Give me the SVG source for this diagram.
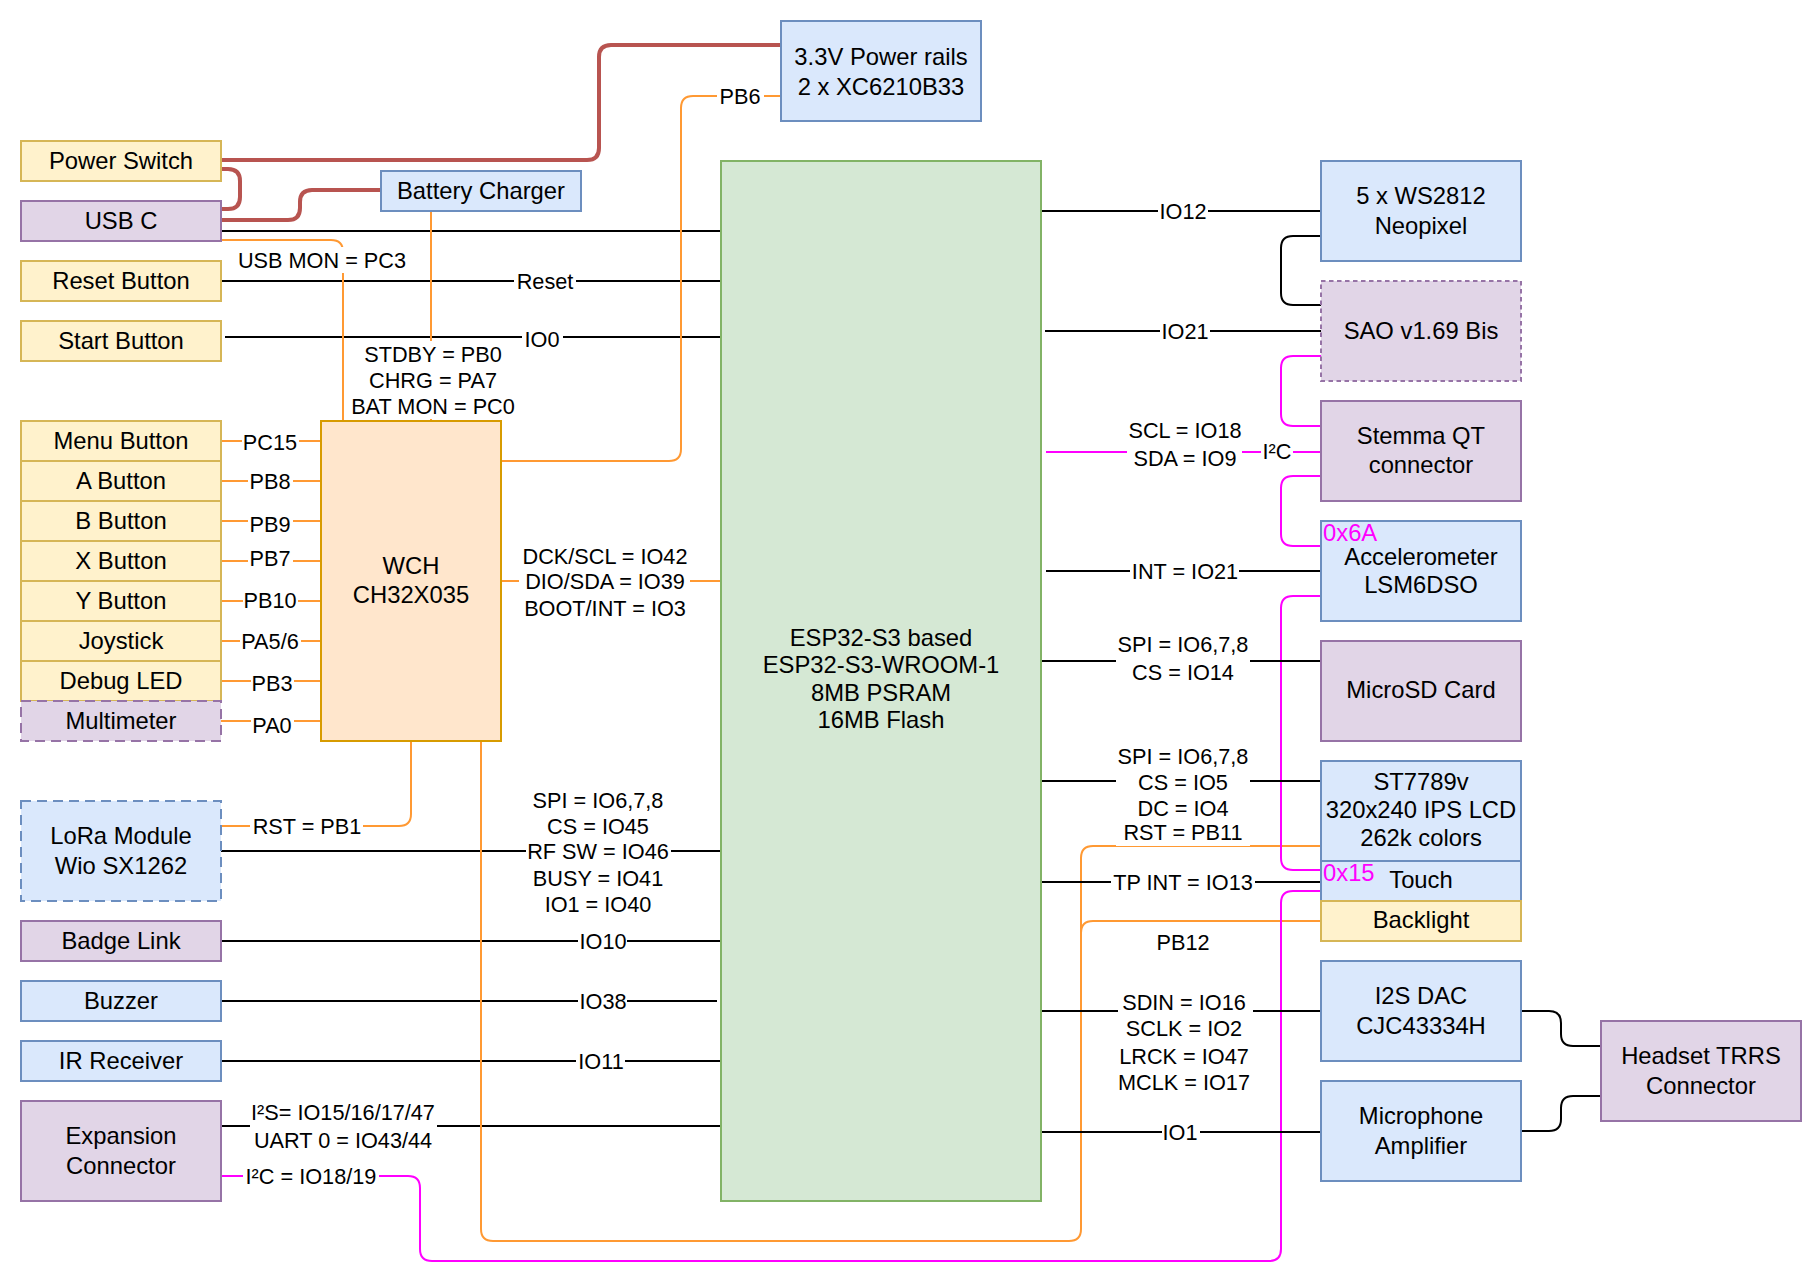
<svg xmlns="http://www.w3.org/2000/svg" width="1820" height="1280" viewBox="0 0 1820 1280">
<style>
text{font-family:"Liberation Sans",Arial,sans-serif;dominant-baseline:central;text-anchor:middle;fill:#000}
.n{font-size:23.8px}
.l{font-size:21.7px}
.m{fill:#FF00FF;text-anchor:start}
rect{stroke-width:2}
.y{fill:#fff2cc;stroke:#d6b656}
.p{fill:#e1d5e7;stroke:#9673a6}
.b{fill:#dae8fc;stroke:#6c8ebf}
.g{fill:#d5e8d4;stroke:#82b366}
.o{fill:#ffe6cc;stroke:#d79b00}
.dl{stroke-dasharray:10 6}
.ds{stroke-dasharray:4.5 3.5}
.bg{fill:#fff;stroke:none}
path,line{fill:none;stroke-width:2}
.k{stroke:#000}
.r{stroke:#b85450;stroke-width:4}
.or{stroke:#FF9933}
.mg{stroke:#FF00FF}
</style>
<g id="connectors">
<path class="r" d="M221,160 H587 Q599,160 599,148 V57 Q599,45 611,45 H781"/>
<path class="r" d="M221,169 H228 Q240,169 240,181 V197 Q240,209 228,209 H221"/>
<path class="r" d="M221,220 H288 Q300,220 300,208 V202 Q300,190 312,190 H381"/>
<path class="k" d="M221,231 H721"/>
<path class="k" d="M221,281 H721"/>
<path class="k" d="M225,337 H721"/>
<path class="k" d="M221,851 H721"/>
<path class="k" d="M221,941 H724"/>
<path class="k" d="M221,1001 H717"/>
<path class="k" d="M221,1061 H721"/>
<path class="k" d="M221,1126 H721"/>
<path class="or" d="M221,240 H331 Q343,240 343,252 V421"/>
<path class="or" d="M431,211 V421"/>
<path class="or" d="M501,461 H669 Q681,461 681,449 V108 Q681,96 693,96 H781"/>
<path class="or" d="M221,441 H321"/>
<path class="or" d="M221,481 H321"/>
<path class="or" d="M221,521 H321"/>
<path class="or" d="M221,561 H321"/>
<path class="or" d="M221,601 H321"/>
<path class="or" d="M221,641 H321"/>
<path class="or" d="M221,681 H321"/>
<path class="or" d="M221,721 H324"/>
<path class="or" d="M501,581 H721"/>
<path class="or" d="M411,741 V814 Q411,826 399,826 H221"/>
<path class="or" d="M481,741 V1229 Q481,1241 493,1241 H1069 Q1081,1241 1081,1229 V858 Q1081,846 1093,846 H1321"/>
<path class="or" d="M1081,933 Q1081,921 1093,921 H1321"/>
<path class="mg" d="M221,1176 H408 Q420,1176 420,1188 V1249 Q420,1261 432,1261 H1269 Q1281,1261 1281,1249 V903 Q1281,891 1293,891 H1321"/>
<path class="mg" d="M1321,596 H1293 Q1281,596 1281,608 V858 Q1281,870 1293,870 H1321"/>
<path class="mg" d="M1321,356 H1293 Q1281,356 1281,368 V414 Q1281,426 1293,426 H1321"/>
<path class="mg" d="M1321,476 H1293 Q1281,476 1281,488 V534 Q1281,546 1293,546 H1321"/>
<path class="mg" d="M1046,452 H1321"/>
<path class="k" d="M1041,211 H1321"/>
<path class="k" d="M1321,236 H1293 Q1281,236 1281,248 V293 Q1281,305 1293,305 H1321"/>
<path class="k" d="M1045,331 H1321"/>
<path class="k" d="M1046,571 H1321"/>
<path class="k" d="M1041,661 H1321"/>
<path class="k" d="M1041,781 H1321"/>
<path class="k" d="M1041,882 H1321"/>
<path class="k" d="M1041,1011 H1321"/>
<path class="k" d="M1041,1132 H1321"/>
<path class="k" d="M1521,1011 H1549 Q1561,1011 1561,1023 V1034 Q1561,1046 1573,1046 H1601"/>
<path class="k" d="M1521,1131 H1549 Q1561,1131 1561,1119 V1108 Q1561,1096 1573,1096 H1601"/>
<rect class="bg" x="236" y="247" width="173" height="26"/>
<rect class="bg" x="349" y="341" width="168" height="78"/>
<rect class="bg" x="514" y="268" width="62" height="26"/>
<rect class="bg" x="522" y="326" width="41" height="26"/>
<rect class="bg" x="717" y="83" width="47" height="26"/>
<rect class="bg" x="242" y="429" width="57" height="26"/>
<rect class="bg" x="248" y="468" width="45" height="26"/>
<rect class="bg" x="248" y="511" width="45" height="26"/>
<rect class="bg" x="248" y="545" width="45" height="26"/>
<rect class="bg" x="243" y="587" width="55" height="26"/>
<rect class="bg" x="240" y="628" width="61" height="26"/>
<rect class="bg" x="251" y="670" width="43" height="26"/>
<rect class="bg" x="251" y="712" width="43" height="26"/>
<rect class="bg" x="519" y="542" width="171" height="79"/>
<rect class="bg" x="250" y="813" width="113" height="26"/>
<rect class="bg" x="526" y="787" width="145" height="130"/>
<rect class="bg" x="578" y="928" width="49" height="26"/>
<rect class="bg" x="578" y="988" width="49" height="26"/>
<rect class="bg" x="576" y="1048" width="49" height="26"/>
<rect class="bg" x="250" y="1099" width="187" height="54"/>
<rect class="bg" x="243" y="1163" width="136" height="26"/>
<rect class="bg" x="1158" y="198" width="50" height="26"/>
<rect class="bg" x="1160" y="318" width="50" height="26"/>
<rect class="bg" x="1127" y="417" width="115" height="54"/>
<rect class="bg" x="1261" y="438" width="32" height="26"/>
<rect class="bg" x="1130" y="558" width="109" height="26"/>
<rect class="bg" x="1116" y="631" width="134" height="54"/>
<rect class="bg" x="1116" y="743" width="134" height="103"/>
<rect class="bg" x="1111" y="869" width="144" height="26"/>
<rect class="bg" x="1118" y="989" width="135" height="106"/>
<rect class="bg" x="1162" y="1119" width="38" height="26"/>
<g class="l">
<text x="322" y="260">USB MON = PC3</text>
<text x="433" y="354">STDBY = PB0</text>
<text x="433" y="380">CHRG = PA7</text>
<text x="433" y="406">BAT MON = PC0</text>
<text x="545" y="281">Reset</text>
<text x="542" y="339">IO0</text>
<text x="740" y="96">PB6</text>
<text x="270" y="442">PC15</text>
<text x="270" y="481">PB8</text>
<text x="270" y="524">PB9</text>
<text x="270" y="558">PB7</text>
<text x="270" y="600">PB10</text>
<text x="270" y="641">PA5/6</text>
<text x="272" y="683">PB3</text>
<text x="272" y="725">PA0</text>
<text x="605" y="556">DCK/SCL = IO42</text>
<text x="605" y="581">DIO/SDA = IO39</text>
<text x="605" y="608">BOOT/INT = IO3</text>
<text x="307" y="826">RST = PB1</text>
<text x="598" y="800">SPI = IO6,7,8</text>
<text x="598" y="826">CS = IO45</text>
<text x="598" y="851">RF SW = IO46</text>
<text x="598" y="878">BUSY = IO41</text>
<text x="598" y="904">IO1 = IO40</text>
<text x="603" y="941">IO10</text>
<text x="603" y="1001">IO38</text>
<text x="601" y="1061">IO11</text>
<text x="343" y="1112">I²S= IO15/16/17/47</text>
<text x="343" y="1140">UART 0 = IO43/44</text>
<text x="311" y="1176">I²C = IO18/19</text>
<text x="1183" y="211">IO12</text>
<text x="1185" y="331">IO21</text>
<text x="1185" y="430">SCL = IO18</text>
<text x="1185" y="458">SDA = IO9</text>
<text x="1277" y="451">I²C</text>
<text x="1185" y="571">INT = IO21</text>
<text x="1183" y="644">SPI = IO6,7,8</text>
<text x="1183" y="672">CS = IO14</text>
<text x="1183" y="756">SPI = IO6,7,8</text>
<text x="1183" y="782">CS = IO5</text>
<text x="1183" y="808">DC = IO4</text>
<text x="1183" y="832">RST = PB11</text>
<text x="1183" y="882">TP INT = IO13</text>
<text x="1183" y="942">PB12</text>
<text x="1184" y="1002">SDIN = IO16</text>
<text x="1184" y="1028">SCLK = IO2</text>
<text x="1184" y="1056">LRCK = IO47</text>
<text x="1184" y="1082">MCLK = IO17</text>
<text x="1180" y="1132">IO1</text>
</g>
</g>
<g id="power-rails"><rect class="b" x="781" y="21" width="200" height="100"/><text class="n" x="881" y="56">3.3V Power rails</text><text class="n" x="881" y="86">2 x XC6210B33</text></g>
<g id="power-switch"><rect class="y" x="21" y="141" width="200" height="40"/><text class="n" x="121" y="160">Power Switch</text></g>
<g id="usb-c"><rect class="p" x="21" y="201" width="200" height="40"/><text class="n" x="121" y="220">USB C</text></g>
<g id="battery-charger"><rect class="b" x="381" y="171" width="200" height="40"/><text class="n" x="481" y="190">Battery Charger</text></g>
<g id="reset-button"><rect class="y" x="21" y="261" width="200" height="40"/><text class="n" x="121" y="280">Reset Button</text></g>
<g id="start-button"><rect class="y" x="21" y="321" width="200" height="40"/><text class="n" x="121" y="340">Start Button</text></g>
<g id="menu-button"><rect class="y" x="21" y="421" width="200" height="40"/><text class="n" x="121" y="440">Menu Button</text></g>
<g id="a-button"><rect class="y" x="21" y="461" width="200" height="40"/><text class="n" x="121" y="480">A Button</text></g>
<g id="b-button"><rect class="y" x="21" y="501" width="200" height="40"/><text class="n" x="121" y="520">B Button</text></g>
<g id="x-button"><rect class="y" x="21" y="541" width="200" height="40"/><text class="n" x="121" y="560">X Button</text></g>
<g id="y-button"><rect class="y" x="21" y="581" width="200" height="40"/><text class="n" x="121" y="600">Y Button</text></g>
<g id="joystick"><rect class="y" x="21" y="621" width="200" height="40"/><text class="n" x="121" y="640">Joystick</text></g>
<g id="debug-led"><rect class="y" x="21" y="661" width="200" height="40"/><text class="n" x="121" y="680">Debug LED</text></g>
<g id="multimeter"><rect class="p dl" x="21" y="701" width="200" height="40"/><text class="n" x="121" y="720">Multimeter</text></g>
<g id="wch"><rect class="o" x="321" y="421" width="180" height="320"/><text class="n" x="411" y="565">WCH</text><text class="n" x="411" y="594">CH32X035</text></g>
<g id="lora"><rect class="b dl" x="21" y="801" width="200" height="100"/><text class="n" x="121" y="835">LoRa Module</text><text class="n" x="121" y="865">Wio SX1262</text></g>
<g id="badge-link"><rect class="p" x="21" y="921" width="200" height="40"/><text class="n" x="121" y="940">Badge Link</text></g>
<g id="buzzer"><rect class="b" x="21" y="981" width="200" height="40"/><text class="n" x="121" y="1000">Buzzer</text></g>
<g id="ir-receiver"><rect class="b" x="21" y="1041" width="200" height="40"/><text class="n" x="121" y="1060">IR Receiver</text></g>
<g id="expansion"><rect class="p" x="21" y="1101" width="200" height="100"/><text class="n" x="121" y="1135">Expansion</text><text class="n" x="121" y="1165">Connector</text></g>
<g id="esp32"><rect class="g" x="721" y="161" width="320" height="1040"/><text class="n" x="881" y="637">ESP32-S3 based</text><text class="n" x="881" y="664">ESP32-S3-WROOM-1</text><text class="n" x="881" y="692">8MB PSRAM</text><text class="n" x="881" y="719">16MB Flash</text></g>
<g id="neopixel"><rect class="b" x="1321" y="161" width="200" height="100"/><text class="n" x="1421" y="195">5 x WS2812</text><text class="n" x="1421" y="225">Neopixel</text></g>
<g id="sao"><rect class="p ds" x="1321" y="281" width="200" height="100"/><text class="n" x="1421" y="330">SAO v1.69 Bis</text></g>
<g id="stemma"><rect class="p" x="1321" y="401" width="200" height="100"/><text class="n" x="1421" y="435">Stemma QT</text><text class="n" x="1421" y="464">connector</text></g>
<g id="accelerometer"><rect class="b" x="1321" y="521" width="200" height="100"/><text class="n m" x="1323" y="532">0x6A</text><text class="n" x="1421" y="556">Accelerometer</text><text class="n" x="1421" y="584">LSM6DSO</text></g>
<g id="microsd"><rect class="p" x="1321" y="641" width="200" height="100"/><text class="n" x="1421" y="689">MicroSD Card</text></g>
<g id="lcd"><rect class="b" x="1321" y="761" width="200" height="100"/><text class="n" x="1421" y="781">ST7789v</text><text class="n" x="1421" y="809">320x240 IPS LCD</text><text class="n" x="1421" y="837">262k colors</text></g>
<g id="touch"><rect class="b" x="1321" y="861" width="200" height="40"/><text class="n m" x="1323" y="872">0x15</text><text class="n" x="1421" y="879">Touch</text></g>
<g id="backlight"><rect class="y" x="1321" y="901" width="200" height="40"/><text class="n" x="1421" y="919">Backlight</text></g>
<g id="i2s-dac"><rect class="b" x="1321" y="961" width="200" height="100"/><text class="n" x="1421" y="995">I2S DAC</text><text class="n" x="1421" y="1025">CJC43334H</text></g>
<g id="mic-amp"><rect class="b" x="1321" y="1081" width="200" height="100"/><text class="n" x="1421" y="1115">Microphone</text><text class="n" x="1421" y="1145">Amplifier</text></g>
<g id="headset"><rect class="p" x="1601" y="1021" width="200" height="100"/><text class="n" x="1701" y="1055">Headset TRRS</text><text class="n" x="1701" y="1085">Connector</text></g>
</svg>
